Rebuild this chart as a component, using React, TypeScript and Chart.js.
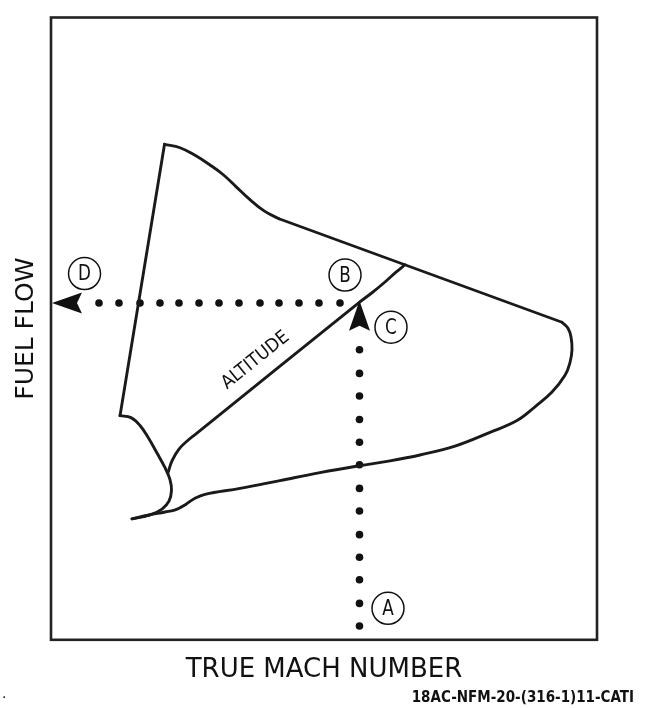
import React, { useEffect, useRef } from 'react';
import { Chart, registerables } from 'chart.js';

Chart.register(...registerables);

const W = 647;
const H = 708;

// Axis ranges (arbitrary units, percent of axis)
const X_MIN = 0;
const X_MAX = 100;
const Y_MIN = 0;
const Y_MAX = 100;

// Envelope: straight left edge (peak down to lower-left corner)
const leftEdgeX = [20.79, 12.64];
const leftEdgeY = [79.62, 36.02];

// Envelope: curved top from the peak
const topCurveX = [20.79, 23.63, 26.23, 29.12, 31.5, 33.88, 36.08, 39.1, 41.76];
const topCurveY = [79.62, 79.07, 77.93, 76.3, 74.77, 72.83, 71.01, 68.88, 67.66];

// Envelope: straight upper-right boundary
const upperLineX = [41.76, 93.59];
const upperLineY = [67.66, 51.03];

// Envelope: right nose and lower boundary back to the tip
const lowerCurveX = [93.59, 94.69, 95.24, 95.42, 95.05, 94.14, 91.76, 88.64, 85.35, 80.4, 73.99, 67.58, 62.09, 56.41, 49.27, 41.94, 34.62, 28.21, 26.37, 24.73, 22.89, 20.88, 17.95, 14.84];
const lowerCurveY = [51.03, 50.08, 48.66, 46.6, 44.55, 42.5, 39.81, 37.44, 35.23, 33.33, 31.12, 29.7, 28.75, 27.96, 26.86, 25.59, 24.33, 23.38, 22.75, 21.8, 20.93, 20.54, 20.06, 19.43];

// Envelope: lower-left contour from the corner to the tip
const leftContourX = [12.64, 14.65, 16.3, 17.77, 19.41, 20.88, 21.79, 22.07, 21.61, 20.33, 18.13, 14.84];
const leftContourY = [36.02, 35.7, 34.44, 32.54, 30.02, 27.65, 25.75, 24.01, 22.27, 21.01, 20.06, 19.43];

// Altitude line
const altitudeX = [21.43, 22.16, 23.44, 25.09, 26.56, 56.41, 58.79, 61.17, 63.19, 64.84];
const altitudeY = [26.86, 28.75, 30.65, 32.07, 33.1, 54.19, 55.77, 57.5, 59.08, 60.27];

// Dotted guide lines
const dotsHX = [8.79, 12.45, 16.3, 19.96, 23.44, 27.11, 30.77, 34.43, 38.28, 41.76, 45.42, 49.08, 52.93];
const dotsHY = [54.11, 54.11, 54.11, 54.11, 54.11, 54.11, 54.11, 54.11, 54.11, 54.11, 54.11, 54.11, 54.11];
const dotsVX = [56.5, 56.5, 56.5, 56.5, 56.5, 56.5, 56.5, 56.5, 56.5, 56.5, 56.5, 56.5, 56.5];
const dotsVY = [46.6, 42.81, 39.18, 35.39, 31.75, 28.12, 24.33, 20.7, 16.9, 13.27, 9.64, 5.85, 2.21];

// Arrow heads (tip positions and pointing direction)
const arrowTipX = [0.18, 56.5];
const arrowTipY = [54.11, 54.5];
const arrowDir = ['left', 'up'];

// Circled step letters
const circleLetters = ['D', 'B', 'C', 'A'];
const circleX = [6.14, 53.85, 62.27, 61.72];
const circleY = [58.85, 58.61, 50.24, 5.06];

// Altitude label
const altitudeLabel = 'ALTITUDE';
const altitudeLabelX = 37.45;
const altitudeLabelY = 44.9;

const xTitle = 'TRUE MACH NUMBER';
const yTitle = 'FUEL FLOW';
const footnote = '18AC-NFM-20-(316-1)11-CATI';

const INK = '#1a1a1a';

const pts = (xs: number[], ys: number[]) => xs.map((x, i) => ({ x, y: ys[i] }));

const curve = (label: string, xs: number[], ys: number[], tension: number) => ({
  label,
  data: pts(xs, ys),
  showLine: true,
  tension,
  borderColor: INK,
  backgroundColor: INK,
  borderWidth: 2.9,
  borderCapStyle: 'round',
  borderJoinStyle: 'round',
  pointRadius: 0,
  pointHoverRadius: 0,
  fill: false,
});

const dots = (label: string, xs: number[], ys: number[]) => ({
  label,
  data: pts(xs, ys),
  showLine: false,
  pointRadius: 3.8,
  pointHoverRadius: 3.8,
  pointBackgroundColor: '#111',
  pointBorderWidth: 0,
  borderColor: '#111',
});

export default function App() {
  const ref = useRef<HTMLCanvasElement>(null);

  useEffect(() => {
    const canvas = ref.current;
    if (!canvas) return;

    const overlay = {
      id: 'overlay',
      afterDatasetsDraw(chart: any) {
        const { ctx, chartArea, scales } = chart;
        const xs = scales.x;
        const ys = scales.y;
        ctx.save();

        // plot frame
        ctx.strokeStyle = '#222';
        ctx.lineWidth = 2.6;
        ctx.strokeRect(chartArea.left, chartArea.top, chartArea.right - chartArea.left, chartArea.bottom - chartArea.top);

        // arrow heads
        ctx.fillStyle = '#111';
        arrowTipX.forEach((vx, i) => {
          const tx = xs.getPixelForValue(vx);
          const ty = ys.getPixelForValue(arrowTipY[i]);
          const d = arrowDir[i] === 'left' ? [-1, 0] : [0, -1];
          const n = [-d[1], d[0]];
          const L = 30;
          const hw = 10.5;
          const notch = 5;
          ctx.beginPath();
          ctx.moveTo(tx, ty);
          ctx.lineTo(tx - d[0] * L + n[0] * hw, ty - d[1] * L + n[1] * hw);
          ctx.lineTo(tx - d[0] * (L - notch), ty - d[1] * (L - notch));
          ctx.lineTo(tx - d[0] * L - n[0] * hw, ty - d[1] * L - n[1] * hw);
          ctx.closePath();
          ctx.fill();
        });

        // circle letters (condensed lettering)
        ctx.fillStyle = '#111';
        ctx.textAlign = 'center';
        ctx.textBaseline = 'middle';
        ctx.font = "22px 'Liberation Sans Narrow', 'DejaVu Sans Condensed', 'DejaVu Sans', sans-serif";
        circleLetters.forEach((t, i) => {
          ctx.save();
          ctx.translate(xs.getPixelForValue(circleX[i]), ys.getPixelForValue(circleY[i]) + 1);
          ctx.scale(0.85, 1);
          ctx.fillText(t, 0, 0);
          ctx.restore();
        });

        // altitude label, rotated along the altitude line
        const ax0 = xs.getPixelForValue(altitudeX[4]);
        const ay0 = ys.getPixelForValue(altitudeY[4]);
        const ax1 = xs.getPixelForValue(altitudeX[5]);
        const ay1 = ys.getPixelForValue(altitudeY[5]);
        const ang = Math.atan2(ay1 - ay0, ax1 - ax0);
        ctx.save();
        ctx.translate(xs.getPixelForValue(altitudeLabelX), ys.getPixelForValue(altitudeLabelY));
        ctx.rotate(ang);
        ctx.font = "18.5px 'DejaVu Sans', sans-serif";
        ctx.scale(0.92, 1);
        ctx.fillText(altitudeLabel, 0, 0);
        ctx.restore();

        // footnote
        ctx.textAlign = 'right';
        ctx.textBaseline = 'alphabetic';
        ctx.font = "bold 15px 'Liberation Sans Narrow', 'DejaVu Sans Condensed', 'DejaVu Sans', sans-serif";
        ctx.fillText(footnote, 634, 702);
        ctx.textAlign = 'left';
        ctx.font = "14px 'DejaVu Sans', sans-serif";
        ctx.fillText('.', 2, 698);

        ctx.restore();
      },
    };

    const chart = new Chart(canvas, {
      type: 'scatter',
      data: {
        datasets: [
          curve('Left edge', leftEdgeX, leftEdgeY, 0),
          curve('Top curve', topCurveX, topCurveY, 0.4),
          curve('Upper boundary', upperLineX, upperLineY, 0),
          curve('Lower boundary', lowerCurveX, lowerCurveY, 0.4),
          curve('Left contour', leftContourX, leftContourY, 0.4),
          curve('Altitude', altitudeX, altitudeY, 0.35),
          dots('Fuel flow read-off', dotsHX, dotsHY),
          dots('Mach entry', dotsVX, dotsVY),
          {
            label: 'Steps',
            data: pts(circleX, circleY),
            showLine: false,
            pointStyle: 'circle',
            pointRadius: 16,
            pointHoverRadius: 16,
            pointBackgroundColor: '#fff',
            pointBorderColor: '#111',
            pointBorderWidth: 1.5,
          },
        ] as any,
      },
      options: {
        responsive: false,
        animation: false,
        events: [],
        layout: { padding: { left: 0, right: 50, top: 7, bottom: 22 } },
        plugins: {
          legend: { display: false },
          tooltip: { enabled: false },
        },
        scales: {
          x: {
            type: 'linear',
            min: X_MIN,
            max: X_MAX,
            grid: { display: false, drawTicks: false },
            border: { display: false },
            ticks: { display: false },
            title: {
              display: true,
              text: xTitle,
              color: '#111',
              font: { family: "'DejaVu Sans', sans-serif", size: 26, lineHeight: 1.2 },
              padding: { top: 15, bottom: 0 },
            },
          },
          y: {
            type: 'linear',
            min: Y_MIN,
            max: Y_MAX,
            grid: { display: false, drawTicks: false },
            border: { display: false },
            ticks: { display: false },
            title: {
              display: true,
              text: yTitle,
              color: '#111',
              font: { family: "'DejaVu Sans', sans-serif", size: 25, lineHeight: 1.2 },
              padding: { top: 11, bottom: 10 },
            },
          },
        },
      } as any,
      plugins: [overlay],
    });

    return () => chart.destroy();
  }, []);

  return (
    <div style={{ position: 'fixed', left: 0, top: 0, width: W, height: H, background: '#fff' }}>
      <canvas ref={ref} width={W} height={H} style={{ display: 'block' }} />
    </div>
  );
}
